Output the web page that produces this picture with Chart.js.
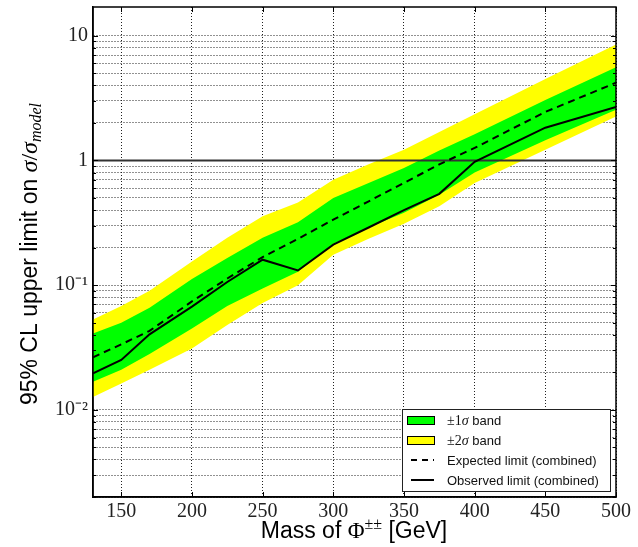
<!DOCTYPE html>
<html>
<head>
<meta charset="utf-8">
<script src="https://cdn.jsdelivr.net/npm/chart.js@4.4.0/dist/chart.umd.min.js"></script>
<style>
  html, body { margin: 0; padding: 0; background: #fff; }
</style>
</head>
<body>
<canvas id="limitChart" width="638" height="547"></canvas>
<script>
// values
const masses    = [130, 150, 170, 200, 225, 250, 275, 300, 325, 350, 375, 400, 450, 500];
const observed  = [0.0196, 0.0251, 0.0403, 0.0673, 0.106, 0.160, 0.131, 0.211, 0.29, 0.40, 0.54, 0.976, 1.83, 2.68];
const expected  = [0.0264, 0.0335, 0.043, 0.074, 0.113, 0.168, 0.235, 0.335, 0.47, 0.66, 0.93, 1.26, 2.45, 4.2];
const band1Up   = [0.041, 0.050, 0.066, 0.112, 0.165, 0.24, 0.32, 0.50, 0.66, 0.87, 1.2, 1.62, 3.05, 5.6];
const band1Down = [0.0168, 0.021, 0.028, 0.045, 0.068, 0.094, 0.128, 0.215, 0.29, 0.38, 0.53, 0.80, 1.45, 2.55];
const band2Up   = [0.053, 0.068, 0.090, 0.155, 0.24, 0.356, 0.46, 0.70, 0.93, 1.22, 1.69, 2.35, 4.5, 8.5];
const band2Down = [0.0127, 0.0163, 0.021, 0.031, 0.048, 0.072, 0.100, 0.175, 0.235, 0.31, 0.43, 0.66, 1.22, 2.25];
const unitLimit = 1;

const xTicks = [150, 200, 250, 300, 350, 400, 450, 500];
const yMajor = [0.01, 0.1, 1, 10];
const yMajorLabels = ["10\u207B\u00B2", "10\u207B\u00B9", "1", "10"];
const yMinorSteps = [2, 3, 4, 5, 6, 7, 8, 9];
const xRange = [130, 500];
const yRange = [0.002, 17];

const legendLabels = ["\u00B11\u03C3 band", "\u00B12\u03C3 band", "Expected limit (combined)", "Observed limit (combined)"];

const GREEN = "#00ff00";
const YELLOW = "#ffff00";

const pts = arr => masses.map((m, i) => ({ x: m, y: arr[i] }));

function isMajor(v) {
  const l = Math.log10(v);
  return Math.abs(l - Math.round(l)) < 1e-9;
}

// draw a row of text pieces with different fonts
function drawRuns(ctx, runs, x, y, align) {
  let total = 0;
  runs.forEach(r => { ctx.font = r.font; r.w = ctx.measureText(r.text).width; total += r.w; });
  let cx = align === "center" ? x - total / 2 : x;
  ctx.textAlign = "left";
  ctx.textBaseline = "alphabetic";
  runs.forEach(r => {
    ctx.font = r.font;
    ctx.fillText(r.text, cx, y + (r.dy || 0));
    cx += r.w;
  });
}

const extras = {
  id: "extras",
  afterDatasetsDraw(chart) {
    const { ctx, chartArea: a, scales: { x, y } } = chart;
    ctx.save();
    ctx.strokeStyle = "#000";
    ctx.lineWidth = 1;
    ctx.beginPath();
    x.ticks.forEach(t => {
      const px = Math.round(x.getPixelForValue(t.value)) + 0.5;
      ctx.moveTo(px, a.bottom); ctx.lineTo(px, a.bottom - 5);
      ctx.moveTo(px, a.top); ctx.lineTo(px, a.top + 5);
    });
    y.ticks.forEach(t => {
      const py = Math.round(y.getPixelForValue(t.value)) + 0.5;
      const len = isMajor(t.value) ? 5 : 3;
      ctx.moveTo(a.left, py); ctx.lineTo(a.left + len, py);
      ctx.moveTo(a.right, py); ctx.lineTo(a.right - len, py);
    });
    ctx.stroke();
    ctx.lineWidth = 1.5;
    ctx.strokeRect(a.left, a.top, a.right - a.left, a.bottom - a.top);
    ctx.restore();
  },
  afterDraw(chart) {
    const { ctx, chartArea: a } = chart;
    ctx.save();

    // legend box
    const bw = 208, bh = 82;
    const bx = a.right - 6 - bw, by = a.bottom - 6 - bh;
    ctx.fillStyle = "#fff";
    ctx.fillRect(bx, by, bw, bh);
    ctx.strokeStyle = "#222";
    ctx.lineWidth = 1;
    ctx.strokeRect(bx + 0.5, by + 0.5, bw, bh);
    legendLabels.forEach((lab, i) => {
      const cy = by + 11 + i * 20;
      ctx.lineWidth = 1;
      if (i < 2) {
        ctx.fillStyle = i === 0 ? GREEN : YELLOW;
        ctx.fillRect(bx + 5, cy - 4, 28, 8);
        ctx.strokeStyle = "#000";
        ctx.strokeRect(bx + 5.5, cy - 3.5, 27, 8);
      } else {
        ctx.strokeStyle = "#000";
        ctx.lineWidth = 2;
        ctx.setLineDash(i === 2 ? [6, 5] : []);
        ctx.beginPath();
        ctx.moveTo(bx + 9, cy); ctx.lineTo(bx + 32, cy);
        ctx.stroke();
        ctx.setLineDash([]);
      }
      ctx.fillStyle = "#111";
      const sp = lab.indexOf(" ");
      const head = lab.slice(0, sp);
      let runs;
      if (head.includes("\u03C3")) {
        runs = [
          { text: head.slice(0, 2), font: "14px 'Liberation Serif'" },
          { text: head.slice(2), font: "italic 14px 'Liberation Serif'" },
          { text: lab.slice(sp), font: "13px 'Liberation Sans'" }
        ];
      } else {
        runs = [{ text: lab, font: "13px 'Liberation Sans'" }];
      }
      drawRuns(ctx, runs, bx + 45, cy + 5, "left");
    });

    // x axis title
    ctx.fillStyle = "#000";
    drawRuns(ctx, [
      { text: "Mass of ", font: "23px 'Liberation Sans'" },
      { text: "\u03A6", font: "23px 'Liberation Serif'" },
      { text: "\u00B1\u00B1", font: "16px 'Liberation Serif'", dy: -9 },
      { text: " [GeV]", font: "23px 'Liberation Sans'" }
    ], 354, 538, "center");

    // y axis title
    ctx.translate(37, 254);
    ctx.rotate(-Math.PI / 2);
    drawRuns(ctx, [
      { text: "95% CL upper limit on ", font: "23px 'Liberation Sans'" },
      { text: "\u03C3", font: "italic 24px 'Liberation Serif'" },
      { text: "/", font: "24px 'Liberation Serif'" },
      { text: "\u03C3", font: "italic 24px 'Liberation Serif'" },
      { text: "model", font: "italic 16px 'Liberation Serif'", dy: 4 }
    ], 0, 0, "center");
    ctx.restore();
  }
};

const line = (data, extra) => Object.assign({
  data: data,
  borderWidth: 0,
  pointRadius: 0,
  tension: 0,
  fill: false
}, extra);

new Chart(document.getElementById("limitChart"), {
  type: "line",
  data: {
    datasets: [
      line(pts(observed), { label: "Observed", borderColor: "#000", borderWidth: 2, order: 0 }),
      line(pts(expected), { label: "Expected", borderColor: "#000", borderWidth: 2, borderDash: [7, 5], order: 1 }),
      line([{ x: xRange[0], y: unitLimit }, { x: xRange[1], y: unitLimit }], { label: "limit", borderColor: "#333", borderWidth: 2, order: 2 }),
      line(pts(band1Up), { label: "1s up", borderColor: GREEN, backgroundColor: GREEN, fill: "+1", order: 3 }),
      line(pts(band1Down), { label: "1s down", borderColor: GREEN, order: 3 }),
      line(pts(band2Up), { label: "2s up", borderColor: YELLOW, backgroundColor: YELLOW, fill: "+1", order: 5 }),
      line(pts(band2Down), { label: "2s down", borderColor: YELLOW, order: 5 })
    ]
  },
  options: {
    responsive: false,
    animation: false,
    devicePixelRatio: 1,
    layout: { padding: { left: 0, top: 7, right: 22, bottom: 0 } },
    plugins: { legend: { display: false }, tooltip: { enabled: false } },
    scales: {
      x: {
        type: "linear",
        min: xRange[0],
        max: xRange[1],
        afterBuildTicks: s => { s.ticks = xTicks.map(v => ({ value: v })); },
        afterFit: s => { s.height = 50; s.paddingLeft = 0; s.paddingRight = 0; },
        grid: { color: "#222", lineWidth: 1, drawTicks: false },
        border: { display: true, color: "#000", width: 1.5, dash: [1, 2] },
        ticks: {
          padding: 3,
          color: "#222",
          font: { family: "'Liberation Serif'", size: 20 },
          maxRotation: 0,
          autoSkip: false,
          callback: v => String(v)
        }
      },
      y: {
        type: "logarithmic",
        min: yRange[0],
        max: yRange[1],
        afterBuildTicks: s => {
          const t = [];
          for (let e = -3; e <= 1; e++) {
            [1].concat(yMinorSteps).forEach(m => {
              const v = m * Math.pow(10, e);
              if (v >= yRange[0] - 1e-12 && v <= yRange[1]) t.push({ value: v });
            });
          }
          s.ticks = t;
        },
        afterFit: s => { s.width = 93; s.paddingTop = 0; s.paddingBottom = 0; },
        grid: { color: "#222", lineWidth: 1, drawTicks: false },
        border: { display: true, color: "#000", width: 1.5, dash: [1, 2] },
        ticks: {
          padding: 5,
          color: "#222",
          font: { family: "'Liberation Serif'", size: 20 },
          autoSkip: false,
          callback: v => {
            if (!isMajor(v)) return "";
            const idx = yMajor.findIndex(m => Math.abs(Math.log10(m) - Math.log10(v)) < 1e-9);
            return idx >= 0 ? yMajorLabels[idx] : "";
          }
        }
      }
    }
  },
  plugins: [extras]
});
</script>
</body>
</html>
